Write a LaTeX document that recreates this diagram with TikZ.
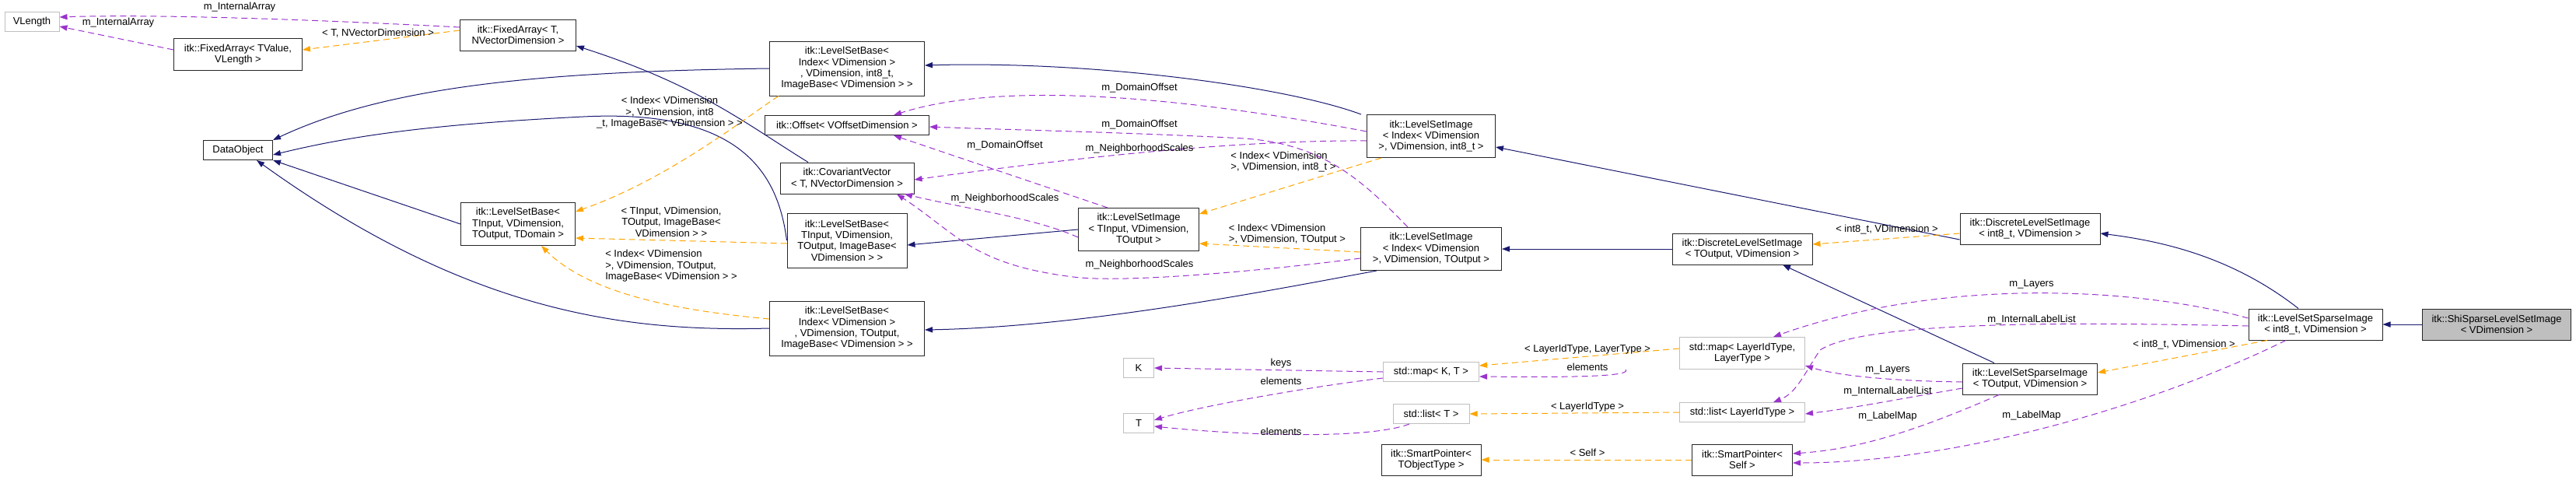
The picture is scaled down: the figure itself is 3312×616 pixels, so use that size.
\documentclass[tikz,border=0pt]{standalone}
\usepackage{fontspec}
\setmainfont{Liberation Sans}
\usetikzlibrary{arrows.meta}
\definecolor{inh}{HTML}{191970}
\definecolor{tmpl}{HTML}{FFA500}
\definecolor{use}{HTML}{9A32CD}
\definecolor{gframe}{HTML}{BFBFBF}
\begin{document}
\begin{tikzpicture}[x=0.5pt,y=-0.5pt,
  font=\fontsize{6.5pt}{7.2pt}\selectfont,
  box/.style={draw=black!85,line width=0.5pt,fill=white,align=center,inner sep=0pt},
  gbox/.style={box,draw=gframe},
  wh/.style 2 args={minimum width=#1*0.5pt,minimum height=#2*0.5pt},
  tip/.style={-{Triangle[length=5pt,width=3.6pt]}},
  inh/.style={tip,draw=inh,line width=0.5pt},
  tpl/.style={tip,draw=tmpl,line width=0.5pt,dash pattern=on 4pt off 2.5pt},
  use/.style={tip,draw=use,line width=0.5pt,dash pattern=on 4pt off 2.5pt},
  lbl/.style={align=center,inner sep=0pt,fill=none},
  lbll/.style={align=left,inner sep=0pt}]
\useasboundingbox (0,0) rectangle (3312,616);
% nodes
\node[gbox,wh={70}{25}] (vlen) at (41,28) {VLength};
\node[box,wh={165}{41}] (faTV) at (306,70) {itk::FixedArray< TValue,\\VLength >};
\node[box,wh={89}{25}] (dobj) at (306,193) {DataObject};
\node[box,wh={149}{40}] (faT) at (666,45) {itk::FixedArray< T,\\NVectorDimension >};
\node[box,wh={147}{55}] (lsbTD) at (666,288) {itk::LevelSetBase<\\TInput, VDimension,\\TOutput, TDomain >};
\node[box,wh={199}{70}] (lsbA) at (1089,88) {itk::LevelSetBase<\\Index< VDimension >\\, VDimension, int8\_t,\\ImageBase< VDimension > >};
\node[box,wh={211}{25}] (off) at (1089,161) {itk::Offset< VOffsetDimension >};
\node[box,wh={172}{40}] (cov) at (1089,229) {itk::CovariantVector\\< T, NVectorDimension >};
\node[box,wh={154}{70}] (lsbB) at (1089,309) {itk::LevelSetBase<\\TInput, VDimension,\\TOutput, ImageBase<\\VDimension > >};
\node[box,wh={199}{70}] (lsbC) at (1089,422) {itk::LevelSetBase<\\Index< VDimension >\\, VDimension, TOutput,\\ImageBase< VDimension > >};
\node[box,wh={155}{55}] (lsiT) at (1464,295) {itk::LevelSetImage\\< TInput, VDimension,\\TOutput >};
\node[gbox,wh={39}{25}] (K) at (1464,473) {K};
\node[gbox,wh={39}{25}] (T) at (1464,544) {T};
\node[box,wh={165}{55}] (lsiI8) at (1840,175) {itk::LevelSetImage\\< Index< VDimension\\>, VDimension, int8\_t >};
\node[box,wh={181}{55}] (lsiIO) at (1840,320) {itk::LevelSetImage\\< Index< VDimension\\>, VDimension, TOutput >};
\node[gbox,wh={123}{25}] (mapKT) at (1840,478) {std::map< K, T >};
\node[gbox,wh={98}{25}] (listT) at (1840,532) {std::list< T >};
\node[box,wh={128}{40}] (spT) at (1840,591) {itk::SmartPointer<\\TObjectType >};
\node[box,wh={180}{40}] (dlsO) at (2240,320) {itk::DiscreteLevelSetImage\\< TOutput, VDimension >};
\node[box,wh={180}{40}] (dlsI) at (2610,294) {itk::DiscreteLevelSetImage\\< int8\_t, VDimension >};
\node[gbox,wh={161}{41}] (mapL) at (2240,454) {std::map< LayerIdType,\\LayerType >};
\node[gbox,wh={161}{25}] (listL) at (2240,530) {std::list< LayerIdType >};
\node[box,wh={129}{40}] (spS) at (2240,591) {itk::SmartPointer<\\Self >};
\node[box,wh={173}{40}] (lssO) at (2610,487) {itk::LevelSetSparseImage\\< TOutput, VDimension >};
\node[box,wh={172}{40}] (lssI) at (2977,417) {itk::LevelSetSparseImage\\< int8\_t, VDimension >};
\node[box,fill=gframe,wh={191}{40}] (shi) at (3210,417) {itk::ShiSparseLevelSetImage\\< VDimension >};
% inheritance
\draw[inh] (lsbA.west) .. controls (700,92) and (500,110) .. (dobj.north east);
\draw[inh] (lsbB.west) .. controls (1000,220) and (950,140) .. (750,150) .. controls (550,160) and (450,175) .. ([yshift=-3pt]dobj.east);
\draw[inh] (lsbTD.west) -- (dobj.south east);
\draw[inh] (lsbC.west) .. controls (800,427) and (600,400) .. ([xshift=12pt]dobj.south);
\draw[inh] ([xshift=-25pt]cov.north) .. controls (960,160) and (900,110) .. ([yshift=-7pt]faT.east);
\draw[inh] ([xshift=-45pt]lsiI8.north) .. controls (1650,110) and (1400,78) .. ([yshift=2pt]lsbA.east);
\draw[inh] (lsiT.west) -- ([yshift=-3pt]lsbB.east);
\draw[inh] ([xshift=-35pt]lsiIO.south) .. controls (1650,370) and (1400,420) .. ([yshift=-1pt]lsbC.east);
\draw[inh] ([yshift=-7pt]dlsI.west) -- ([yshift=-7pt]lsiI8.east);
\draw[inh] (dlsO.west) -- (lsiIO.east);
\draw[inh] ([xshift=-23pt]lssO.north) -- ([xshift=26pt]dlsO.south);
\draw[inh] ([xshift=-11pt]lssI.north) .. controls (2870,330) and (2780,310) .. ([yshift=-3pt]dlsI.east);
\draw[inh] (shi.west) -- (lssI.east);
% templates
\draw[tpl] ([yshift=3pt]faT.west) -- ([yshift=3pt]faTV.east);
\node[lbl] (l1) at (486,43) {< T, NVectorDimension >};
\draw[tpl] ([xshift=-44pt]lsbA.south) .. controls (960,150) and (860,230) .. ([yshift=8pt]lsbTD.east);
\node[lbl] (l2) at (861,145) {< Index< VDimension\\>, VDimension, int8\\\_t, ImageBase< VDimension > >};
\draw[tpl] ([yshift=-2pt]lsbB.west) -- ([yshift=-9pt]lsbTD.east);
\node[lbl] (l3) at (863,285) {< TInput, VDimension,\\TOutput, ImageBase<\\VDimension > >};
\draw[tpl] ([yshift=6pt]lsbC.west) .. controls (880,400) and (760,380) .. ([xshift=15pt]lsbTD.south);
\node[lbll] (l4) at (863,342) {< Index< VDimension\\>, VDimension, TOutput,\\ImageBase< VDimension > >};
\draw[tpl] ([xshift=-32pt]lsiI8.south) -- ([yshift=10pt]lsiT.east);
\node[lbll] (l5) at (1650,208) {< Index< VDimension\\>, VDimension, int8\_t >};
\draw[tpl] ([yshift=-2pt]lsiIO.west) -- ([yshift=-9pt]lsiT.east);
\node[lbll] (l6) at (1655,301) {< Index< VDimension\\>, VDimension, TOutput >};
\draw[tpl] ([yshift=-3pt]dlsI.west) -- ([yshift=3pt]dlsO.east);
\node[lbl] (l7) at (2426,295) {< int8\_t, VDimension >};
\draw[tpl] ([xshift=-31pt]lssI.south) -- ([yshift=4pt]lssO.east);
\node[lbl] (l8) at (2808,443) {< int8\_t, VDimension >};
\draw[tpl] ([yshift=3pt]mapL.west) -- ([yshift=4pt]mapKT.east);
\node[lbl] (l9) at (2041,449) {< LayerIdType, LayerType >};
\draw[tpl] (listL.west) -- (listT.east);
\node[lbl] (l10) at (2041,523) {< LayerIdType >};
\draw[tpl] (spS.west) -- (spT.east);
\node[lbl] (l11) at (2041,582) {< Self >};
% usage
\draw[use] ([yshift=5pt]faT.west) .. controls (400,25) and (200,18) .. ([yshift=3pt]vlen.east);
\node[lbl] (u1) at (308,9) {m\_InternalArray};
\draw[use] ([yshift=3pt]faTV.west) -- ([yshift=-3pt]vlen.east);
\node[lbl] (u2) at (152,29) {m\_InternalArray};
\draw[use] ([yshift=3pt]lsiI8.west) .. controls (1550,130) and (1300,100) .. ([xshift=30pt]off.north);
\node[lbl] (u3) at (1465,113) {m\_DomainOffset};
\draw[use] ([xshift=-15pt]lsiIO.north) .. controls (1750,230) and (1700,185) .. (1600,178) .. controls (1450,170) and (1300,167) .. ([yshift=-1pt]off.east);
\node[lbl] (u4) at (1465,160) {m\_DomainOffset};
\draw[use] ([yshift=-3pt]lsiI8.west) .. controls (1600,180) and (1400,200) .. ([yshift=-1pt]cov.east);
\node[lbl] (u5) at (1465,191) {m\_NeighborhoodScales};
\draw[use] ([xshift=-20pt]lsiT.north) -- ([xshift=30pt]off.south);
\node[lbl] (u6) at (1292,187) {m\_DomainOffset};
\draw[use] ([yshift=-5pt]lsiT.west) .. controls (1330,280) and (1250,270) .. ([xshift=37pt]cov.south);
\node[lbl] (u7) at (1292,255) {m\_NeighborhoodScales};
\draw[use] ([yshift=-6pt]lsiIO.west) .. controls (1650,345) and (1450,365) .. (1380,356) .. controls (1250,340) and (1230,300) .. ([xshift=32pt]cov.south);
\node[lbl] (u8) at (1465,340) {m\_NeighborhoodScales};
\draw[use] (mapKT.west) -- (K.east);
\node[lbl] (u9) at (1647,467) {keys};
\draw[use] ([yshift=-4pt]mapKT.west) .. controls (1700,495) and (1550,520) .. ([yshift=2pt]T.east);
\node[lbl] (u10) at (1647,490) {elements};
\draw[use] ([xshift=-14pt]listT.south) .. controls (1760,565) and (1600,560) .. ([yshift=-2pt]T.east);
\node[lbl] (u11) at (1647,555) {elements};
\draw[use] ([xshift=-75pt]mapL.south) .. controls (2100,485) and (2000,485) .. ([yshift=-3pt]mapKT.east);
\node[lbl] (u12) at (2041,472) {elements};
\draw[use] ([yshift=4pt]lssI.west) .. controls (2750,370) and (2500,355) .. ([xshift=20pt]mapL.north);
\node[lbl] (u13) at (2612,365) {m\_Layers};
\draw[use] ([yshift=-1pt]lssI.west) .. controls (2700,415) and (2400,410) .. (2340,450) .. controls (2320,480) and (2310,505) .. ([xshift=20pt]listL.north);
\node[lbl] (u14) at (2612,411) {m\_InternalLabelList};
\draw[use] ([yshift=-2pt]lssO.west) .. controls (2450,490) and (2370,485) .. ([yshift=-8pt]mapL.east);
\node[lbl] (u15) at (2427,475) {m\_Layers};
\draw[use] ([yshift=-6pt]lssO.west) .. controls (2430,515) and (2380,525) .. ([yshift=-1pt]listL.east);
\node[lbl] (u16) at (2427,503) {m\_InternalLabelList};
\draw[use] ([xshift=-20pt]lssO.south) .. controls (2450,560) and (2380,578) .. ([yshift=4pt]spS.east);
\node[lbl] (u17) at (2427,535) {m\_LabelMap};
\draw[use] ([xshift=-19pt]lssI.south) .. controls (2750,530) and (2500,595) .. ([yshift=-2pt]spS.east);
\node[lbl] (u18) at (2612,534) {m\_LabelMap};
\end{tikzpicture}
\end{document}
